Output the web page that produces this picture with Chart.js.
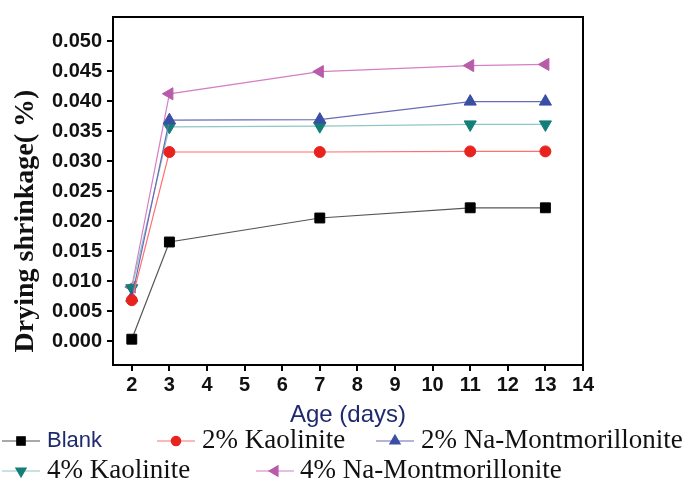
<!DOCTYPE html>
<html>
<head>
<meta charset="utf-8">
<script src="https://cdn.jsdelivr.net/npm/chart.js@4/dist/chart.umd.min.js"></script>
<style>
  html, body { margin: 0; padding: 0; background: #fff; }
  #chart { display: block; }
</style>
</head>
<body>
<canvas id="chart" width="690" height="487"></canvas>
<script>
// ages (days) and drying shrinkage values
var ages = [2, 3, 7, 11, 13];
var blank = [0.0003, 0.0165, 0.0205, 0.0222, 0.0222];
var kaolinite2 = [0.0068, 0.0315, 0.0315, 0.0316, 0.0316];
var montmorillonite2 = [0.0072, 0.0368, 0.0369, 0.0399, 0.0399];
var kaolinite4 = [0.0088, 0.0357, 0.0358, 0.0361, 0.0361];
var montmorillonite4 = [0.0090, 0.0412, 0.0449, 0.0459, 0.0461];

var seriesNames = ['Blank', '2% Kaolinite', '2% Na-Montmorillonite', '4% Kaolinite', '4% Na-Montmorillonite'];
var xTicks = [2, 3, 4, 5, 6, 7, 8, 9, 10, 11, 12, 13, 14];
var yTicks = [0, 0.005, 0.010, 0.015, 0.020, 0.025, 0.030, 0.035, 0.040, 0.045, 0.050];
var yTitle = 'Drying shrinkage( %)';

function pts(ys) {
    return ages.map(function (a, i) { return {x: a, y: ys[i]}; });
}

function series(label, ys, line, fill, style, rot, r) {
    return {
        label: label,
        data: pts(ys),
        borderColor: line,
        borderWidth: 1.2,
        pointBackgroundColor: fill,
        pointBorderColor: fill,
        pointBorderWidth: 1,
        pointStyle: style,
        pointRotation: rot,
        pointRadius: r,
        pointHoverRadius: r,
        tension: 0,
        clip: false
    };
}

var serif = '"Liberation Serif", "Times New Roman", serif';
var sans = '"Liberation Sans", Arial, sans-serif';

// legend slots: line start x, row y, text x, text font, text colour
var legendSlots = [
    {x: 2,   y: 441, tx: 47,  font: '22px ' + sans, color: '#1f2a6e'},
    {x: 157, y: 441, tx: 202, font: '27px ' + serif, color: '#111'},
    {x: 376, y: 441, tx: 421, font: '27px ' + serif, color: '#111'},
    {x: 2,   y: 471, tx: 47,  font: '27px ' + serif, color: '#111'},
    {x: 256, y: 471, tx: 300, font: '27px ' + serif, color: '#111'}
];

var frameAndLegend = {
    id: 'frameAndLegend',
    afterDraw: function (chart) {
        var ctx = chart.ctx;
        var a = chart.chartArea;
        ctx.save();
        ctx.strokeStyle = '#000';
        ctx.lineWidth = 2;
        ctx.strokeRect(a.left, a.top, a.right - a.left, a.bottom - a.top);

        // y axis title, sits a little below the plot centre in the original
        ctx.save();
        ctx.translate(26, 221);
        ctx.rotate(-Math.PI / 2);
        ctx.font = 'bold 28px ' + serif;
        ctx.fillStyle = '#111';
        ctx.textAlign = 'center';
        ctx.textBaseline = 'middle';
        ctx.fillText(yTitle, 0, 0);
        ctx.restore();

        chart.data.datasets.forEach(function (ds, i) {
            var s = legendSlots[i];
            ctx.strokeStyle = ds.borderColor;
            ctx.lineWidth = 1.2;
            ctx.beginPath();
            ctx.moveTo(s.x, s.y);
            ctx.lineTo(s.x + 38, s.y);
            ctx.stroke();
            ctx.fillStyle = ds.pointBackgroundColor;
            ctx.strokeStyle = ds.pointBorderColor;
            Chart.helpers.drawPoint(ctx, {
                pointStyle: ds.pointStyle,
                rotation: ds.pointRotation,
                radius: ds.pointRadius * 0.85,
                borderWidth: 1
            }, s.x + 19, s.y);
            ctx.font = s.font;
            ctx.fillStyle = s.color;
            ctx.textBaseline = 'middle';
            ctx.textAlign = 'left';
            ctx.fillText(ds.label, s.tx, s.y);
        });
        ctx.restore();
    }
};

new Chart(document.getElementById('chart'), {
    type: 'line',
    data: {
        datasets: [
            series(seriesNames[0], blank, '#555555', '#000000', 'rect', 0, 7),
            series(seriesNames[1], kaolinite2, '#ff6f6f', '#e8231f', 'circle', 0, 5.5),
            series(seriesNames[2], montmorillonite2, '#6a6ab8', '#3a4fa3', 'triangle', 0, 7),
            series(seriesNames[3], kaolinite4, '#8fc7c3', '#127f78', 'triangle', 180, 7),
            series(seriesNames[4], montmorillonite4, '#d47fc6', '#b95ba8', 'triangle', -90, 7)
        ]
    },
    options: {
        responsive: false,
        animation: false,
        layout: {padding: {left: 0, right: 107, top: 14, bottom: 0}},
        plugins: {legend: {display: false}, tooltip: {enabled: false}},
        scales: {
            x: {
                type: 'linear',
                min: 1.5,
                max: 14,
                afterBuildTicks: function (scale) {
                    scale.ticks = xTicks.map(function (v) { return {value: v}; });
                },
                afterFit: function (scale) { scale.height = 122; },
                grid: {drawOnChartArea: false, drawTicks: true, tickLength: 6, color: '#000', lineWidth: 2},
                border: {display: true, color: '#000', width: 2},
                ticks: {
                    padding: 2,
                    maxRotation: 0,
                    color: '#111',
                    font: {family: sans, size: 20, weight: 'bold'}
                },
                title: {
                    display: true,
                    text: 'Age (days)',
                    color: '#1f2a6e',
                    font: {family: sans, size: 24},
                    padding: {top: 0, bottom: 57}
                }
            },
            y: {
                min: -0.004,
                max: 0.054,
                afterBuildTicks: function (scale) {
                    scale.ticks = yTicks.map(function (v) { return {value: v}; });
                },
                afterFit: function (scale) { scale.width = 113; },
                grid: {drawOnChartArea: false, drawTicks: true, tickLength: 6, color: '#000', lineWidth: 2},
                border: {display: true, color: '#000', width: 2},
                ticks: {
                    padding: 5,
                    color: '#111',
                    font: {family: sans, size: 20, weight: 'bold'},
                    callback: function (v) { return v.toFixed(3); }
                }
            }
        }
    },
    plugins: [frameAndLegend]
});
</script>
</body>
</html>
